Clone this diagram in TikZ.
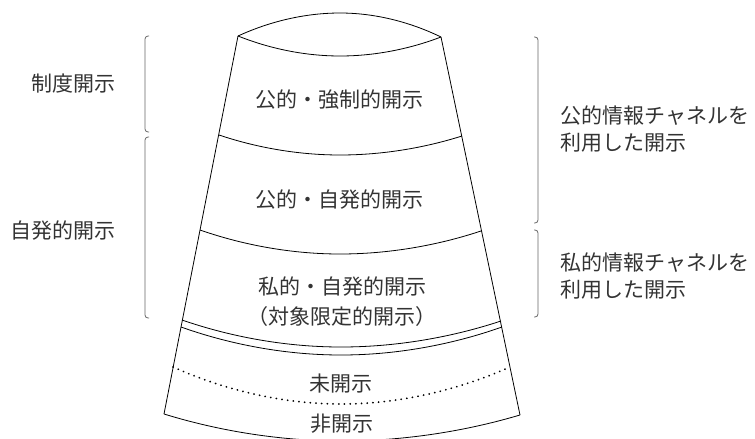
\documentclass[tikz,border=0pt]{standalone}
\usepackage{fontspec}
\newfontfamily\jpfont{Noto Sans CJK JP}
\begin{document}
\begin{tikzpicture}[x=1pt,y=-1pt,line width=0.8pt,
		txt/.style={font=\jpfont\fontsize{21}{30}\selectfont,text=black!80,inner sep=0pt,align=center},
		sidetxt/.style={font=\jpfont\fontsize{21}{27}\selectfont,text=black!80,inner sep=0pt,align=left,anchor=west},
		bracket/.style={draw=black!60,rounded corners=3pt},
		dotline/.style={dash pattern=on 0.1pt off 5.6pt,line width=1.9pt,line cap=round}]
		\useasboundingbox (0,0) rectangle (755,439);
		\clip (0,0) rectangle (755,439);
		
		\coordinate (tl) at (238,36);
		\coordinate (tr) at (441,37);
		\coordinate (bl) at (164,414);
		\coordinate (br) at (520,415);
		
		% cone
		\draw (tl) parabola bend (340,13) (tr);
		\draw (tl) parabola bend (340,56) (tr);
		\draw (tl) -- (bl);
		\draw (tr) -- (br);
		\draw (219,135) parabola bend (340,155) (462,136);
		\draw (200,230) parabola bend (340,254) (481,231);
		\draw (182,320) parabola bend (341,347) (501,321);
		\draw (181,327) parabola bend (341,355) (502,327);
		\draw[dotline] (173,367) parabola bend (341,404) (510,367);
		\draw (bl) parabola bend (342,441) (br);
		
		\node[txt] (kyosei) at (339,100) {公的・強制的開示};
		\node[txt] (kojihatsu) at (339,200) {公的・自発的開示};
		\node[txt] (shijihatsu) at (342,302) {私的・自発的開示\\（対象限定的開示）};
		\node[txt] (mikaiji) at (341,384) {未開示};
		\node[txt] (hikaiji) at (342,424) {非開示};
		
		% left side
		\draw[bracket] (149,36) -- (145,36) -- (145,132) -- (149,132);
		\draw[bracket] (149,137) -- (145,137) -- (145,318) -- (149,318);
		\node[txt,anchor=east] (seido) at (116,84) {制度開示};
		\node[txt,anchor=east] (jihatsu) at (116,231) {自発的開示};
		
		% right side
		\draw[bracket] (534,37) -- (538,37) -- (538,223) -- (534,223);
		\draw[bracket] (534,230) -- (538,230) -- (538,317) -- (534,317);
		\node[sidetxt] (kouteki) at (560,129.5) {公的情報チャネルを\\利用した開示};
		\node[sidetxt] (shiteki) at (560,276.5) {私的情報チャネルを\\利用した開示};
\end{tikzpicture}
\end{document}
